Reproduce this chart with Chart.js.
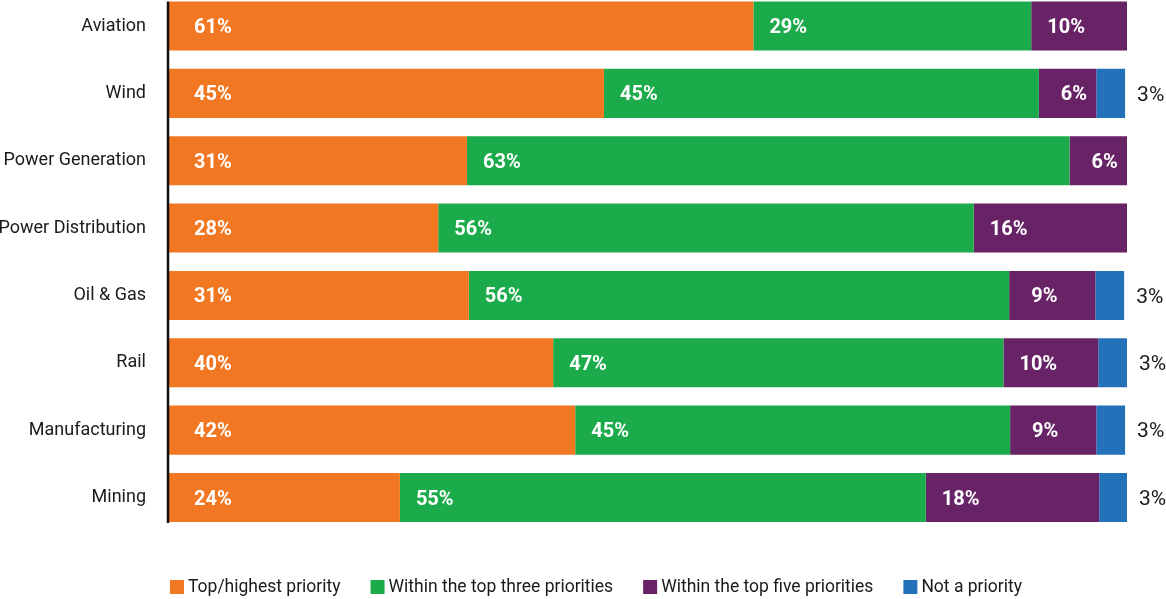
<!DOCTYPE html>
<html>
<head>
<meta charset="utf-8">
<script src="https://cdn.jsdelivr.net/npm/chart.js"></script>
<style>
  html, body { margin:0; padding:0; background:#fff; }
  #wrap { width:1166px; height:599px; position:relative; }
</style>
</head>
<body>
<div id="wrap"><canvas id="chart"></canvas></div>
<script>
const FONT = "Roboto, 'Liberation Sans', sans-serif";

const categories = ['Aviation', 'Wind', 'Power Generation', 'Power Distribution', 'Oil & Gas', 'Rail', 'Manufacturing', 'Mining'];
// segment shares (labels show them rounded)
const topPriority = [61.0, 45.4, 31.1, 28.1, 31.3, 40.1, 42.4, 24.1];
const topThree    = [29.0, 45.4, 62.9, 55.9, 56.4, 47.0, 45.4, 54.9];
const topFive     = [10.0, 6.0, 6.0, 16.0, 9.0, 9.9, 9.0, 18.1];
const notPriority = [null, 3.0, null, null, 3.0, 3.0, 3.0, 2.9];

const seriesNames  = ['Top/highest priority', 'Within the top three priorities', 'Within the top five priorities', 'Not a priority'];
const seriesColors = ['#F27722', '#1BAB4A', '#682366', '#2271B9'];

// white labels inside segments, dark label right of the blue segment
const barLabels = {
  id: 'barLabels',
  afterDatasetsDraw(chart) {
    const ctx = chart.ctx;
    ctx.save();
    ctx.textBaseline = 'middle';
    chart.data.datasets.forEach((ds, di) => {
      const meta = chart.getDatasetMeta(di);
      meta.data.forEach((bar, i) => {
        const v = ds.data[i];
        if (v == null) return;
        const r = Math.round(v);
        const txt = r + '%';
        if (di === 3) {
          ctx.fillStyle = '#1a1a1a';
          ctx.font = '21px ' + FONT;
          ctx.fillText(txt, Math.max(bar.x, bar.base) + 12, bar.y + 2);
        } else {
          const off = di === 0 ? 25 : (r < 10 ? 22 : 16);
          ctx.fillStyle = '#fff';
          ctx.font = 'bold 20px ' + FONT;
          ctx.fillText(txt, Math.min(bar.x, bar.base) + off, bar.y + 2);
        }
      });
    });
    ctx.restore();
  }
};

// vertical axis line from first bar top to last bar bottom
const axisLine = {
  id: 'axisLine',
  afterDatasetsDraw(chart) {
    const meta = chart.getDatasetMeta(0);
    const first = meta.data[0], last = meta.data[meta.data.length - 1];
    const x = chart.chartArea.left - 1;
    const ctx = chart.ctx;
    ctx.save();
    ctx.strokeStyle = '#111';
    ctx.lineWidth = 2.5;
    ctx.beginPath();
    ctx.moveTo(x, first.y - first.height / 2);
    ctx.lineTo(x, last.y + last.height / 2 + 1);
    ctx.stroke();
    ctx.restore();
  }
};

// legend row along the bottom
const bottomLegend = {
  id: 'bottomLegend',
  afterDraw(chart) {
    const ctx = chart.ctx;
    ctx.save();
    ctx.font = '17.5px ' + FONT;
    ctx.textBaseline = 'middle';
    let x = chart.chartArea.left + 1;
    const y = 587;
    chart.data.datasets.forEach(ds => {
      ctx.fillStyle = ds.backgroundColor;
      ctx.fillRect(x, y - 7, 14, 14);
      ctx.fillStyle = '#1a1a1a';
      ctx.fillText(ds.label, x + 18, y + 1);
      x += 18 + ctx.measureText(ds.label).width + 30;
    });
    ctx.restore();
  }
};

const seriesData = [topPriority, topThree, topFive, notPriority];

new Chart(document.getElementById('chart'), {
  type: 'bar',
  data: {
    labels: categories,
    datasets: seriesData.map((d, i) => ({
      label: seriesNames[i],
      data: d,
      backgroundColor: seriesColors[i],
      borderWidth: 0,
      barPercentage: 0.728,
      categoryPercentage: 1,
      clip: false
    }))
  },
  options: {
    indexAxis: 'y',
    responsive: true,
    maintainAspectRatio: false,
    animation: false,
    layout: { padding: { top: 26, right: 39, bottom: 101.5, left: 0 } },
    scales: {
      x: { stacked: true, min: 0, max: 100, display: false },
      y: {
        stacked: true,
        offset: false,
        grid: { display: false, drawTicks: false },
        border: { display: false },
        ticks: {
          color: '#1a1a1a',
          padding: 23,
          font: { family: FONT, size: 18 }
        },
        afterFit(scale) {
          scale.width = 169;
          scale.paddingTop = 0;
          scale.paddingBottom = 0;
        }
      }
    },
    plugins: {
      legend: { display: false },
      tooltip: { enabled: false }
    }
  },
  plugins: [barLabels, axisLine, bottomLegend]
});
</script>
</body>
</html>
